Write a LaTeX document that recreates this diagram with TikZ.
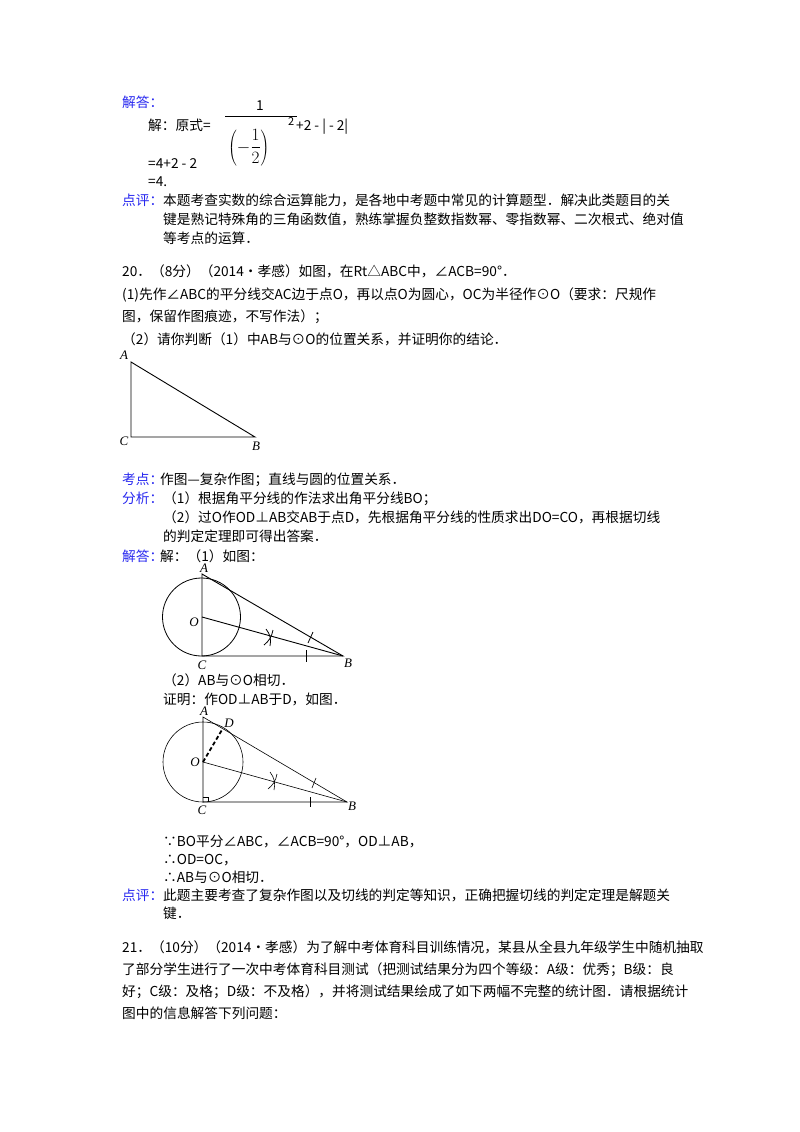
\documentclass[tikz,border=0pt]{standalone}
\usepackage{fontspec}
\setmainfont{Noto Sans CJK SC}
\newfontfamily\lat{Liberation Serif}
\usetikzlibrary{calc}
\definecolor{kb}{RGB}{40,40,240}
\begin{document}
\begin{tikzpicture}[x=1pt,y=-1pt,
  t/.style={anchor=base west,inner sep=0pt,font=\fontsize{13.7}{15}\selectfont},
  bl/.style={t,text=kb},
  lab/.style={inner sep=0pt,font=\fontsize{13}{14}\selectfont\lat\itshape},
  ln/.style={line width=0.9pt}]
\useasboundingbox (0,0) rectangle (800,1132);
\fill[white] (0,0) rectangle (800,1132);
% problem 19 answer
\node[bl] (j1) at (122,107) {解答：};
\node[t] (j2) at (148,130) {解：原式=};
\node[t] (f1) at (256,110) {1};
\draw (225,116) -- (297,116);
\node[t,font=\fontsize{16}{18}\selectfont] (f2) at (228,152) {$\displaystyle\left(-\frac{1}{2}\right)$};
\node[t] (f3) at (288,125) {\fontsize{11}{12}\selectfont 2};
\node[t] (f4) at (296,130) {+2 - | - 2|};
\node[t] (j3) at (148,168) {=4+2 - 2};
\node[t] (j4) at (148,186) {=4.};
\node[bl] (p1) at (122,205) {点评：};
\node[t] (p2) at (163,205) {本题考查实数的综合运算能力，是各地中考题中常见的计算题型．解决此类题目的关};
\node[t] (p3) at (163,224) {键是熟记特殊角的三角函数值，熟练掌握负整数指数幂、零指数幂、二次根式、绝对值};
\node[t] (p4) at (163,243) {等考点的运算．};
% problem 20
\node[t] (q1) at (122,276) {20．（8分）（2014•孝感）如图，在Rt△ABC中，∠ACB=90°．};
\node[t] (q2) at (122,299) {(1)先作∠ABC的平分线交AC边于点O，再以点O为圆心，OC为半径作⊙O（要求：尺规作};
\node[t] (q3) at (122,321) {图，保留作图痕迹，不写作法）；};
\node[t] (q4) at (122,344) {（2）请你判断（1）中AB与⊙O的位置关系，并证明你的结论．};
% figure 1
\coordinate (A1) at (131,362); \coordinate (C1) at (131,437); \coordinate (B1) at (255,437);
\draw[ln] (A1) -- (C1) -- (B1) -- cycle;
\node[lab] (la1) at (124,355) {A};
\node[lab] (lc1) at (124,441) {C};
\node[lab] (lb1) at (256,446) {B};
\node[bl] (k1) at (122,484) {考点：};
\node[t] (k2) at (160,484) {作图—复杂作图；直线与圆的位置关系．};
\node[bl] (a1) at (122,503) {分析：};
\node[t] (a2) at (163,503) {（1）根据角平分线的作法求出角平分线BO；};
\node[t] (a3) at (163,522) {（2）过O作OD⊥AB交AB于点D，先根据角平分线的性质求出DO=CO，再根据切线};
\node[t] (a4) at (163,541) {的判定定理即可得出答案．};
\node[bl] (s1) at (122,561) {解答：};
\node[t] (s2) at (160,561) {解：（1）如图：};
% figure 2
\coordinate (A2) at (202,574); \coordinate (C2) at (202,656); \coordinate (B2) at (343,656); \coordinate (O2) at (202,617);
\draw[ln] (A2) -- (C2) -- (B2) -- cycle;
\draw[ln] (O2) -- (B2);
\draw[line width=0.8pt] (201.5,617) circle (39);
\draw[line width=0.8pt] (266,629) to[bend left=25] (270,646);
\draw[line width=0.8pt] (264,645) to[bend right=20] (273,630);
\draw[line width=0.8pt] (308,643) -- (313,632);
\draw[line width=0.8pt] (306,650) -- (306,662);
\node[lab] (la2) at (204,568) {A};
\node[lab] (lo2) at (194,622) {O};
\node[lab] (lc2) at (202,665) {C};
\node[lab] (lb2) at (348,663) {B};
\node[t] (s3) at (163,685) {（2）AB与⊙O相切．};
\node[t] (s4) at (163,704) {证明：作OD⊥AB于D，如图．};
% figure 3
\coordinate (A3) at (203,717); \coordinate (C3) at (203,802); \coordinate (B3) at (347,802); \coordinate (O3) at (203,762);
\coordinate (D3) at ($(A3)!(O3)!(B3)$);
\draw[line width=0.6pt] (A3) -- (C3) -- (B3) -- cycle;
\draw[line width=0.6pt] (O3) -- (B3);
\draw[line width=0.6pt] (203,762) circle (40);
\draw[line width=1.8pt,dash pattern=on 4pt off 2.5pt] (O3) -- (D3);
\draw[line width=0.5pt] (203,797) -- (208,797) -- (208,802);
\draw[line width=0.6pt] (270,772) to[bend left=25] (274,790);
\draw[line width=0.6pt] (268,789) to[bend right=20] (277,774);
\draw[line width=0.6pt] (312,788) -- (316,778);
\draw[line width=0.6pt] (310,797) -- (310,807);
\node[lab] (la3) at (204,711) {A};
\node[lab] (ld3) at (229,723) {D};
\node[lab] (lo3) at (195,762) {O};
\node[lab] (lc3) at (202,810) {C};
\node[lab] (lb3) at (352,806) {B};
\node[t] (r1) at (163,846) {∵BO平分∠ABC，∠ACB=90°，OD⊥AB，};
\node[t] (r2) at (163,864) {∴OD=OC，};
\node[t] (r3) at (163,882) {∴AB与⊙O相切．};
\node[bl] (r4) at (122,900) {点评：};
\node[t] (r5) at (163,900) {此题主要考查了复杂作图以及切线的判定等知识，正确把握切线的判定定理是解题关};
\node[t] (r6) at (163,918) {键．};
% problem 21
\node[t] (u1) at (122,952) {21．（10分）（2014•孝感）为了解中考体育科目训练情况，某县从全县九年级学生中随机抽取};
\node[t] (u2) at (122,974) {了部分学生进行了一次中考体育科目测试（把测试结果分为四个等级：A级：优秀；B级：良};
\node[t] (u3) at (122,996) {好；C级：及格；D级：不及格），并将测试结果绘成了如下两幅不完整的统计图．请根据统计};
\node[t] (u4) at (122,1018) {图中的信息解答下列问题：};
\end{tikzpicture}
\end{document}
